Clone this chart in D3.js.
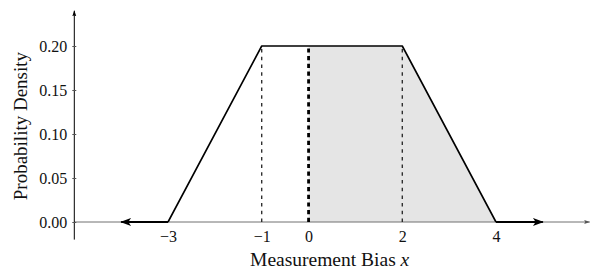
<!DOCTYPE html>
<html>
<head>
<meta charset="utf-8">
<script src="https://cdn.jsdelivr.net/npm/d3@7"></script>
<style>
  body { margin: 0; background: #fff; }
  svg text { font-family: "Liberation Serif", "DejaVu Serif", serif; fill: #111; }
</style>
</head>
<body>
<div id="chart"></div>
<script>
// Trapezoidal density of the measurement bias
const densityX = [-3, -1, 2, 4];
const densityY = [0, 0.2, 0.2, 0];

// Shaded region x >= 0 under the density
const shadeX = [0, 2, 4];
const shadeY = [0.2, 0.2, 0];

// Reference lines
const dashedAt = [-1, 2];
const dottedAt = [0];

// Tails running off along the axis
const tailLeft = [-3, -4];
const tailRight = [4, 5];

const xTicks = [-3, -1, 0, 2, 4];
const yTicks = [0, 0.05, 0.10, 0.15, 0.20];

const width = 598, height = 272;
const serif = '"Liberation Serif", "DejaVu Serif", serif';

const x = d3.scaleLinear().domain([-5, 6]).range([74.3, 589.7]);
const y = d3.scaleLinear().domain([-0.02, 0.24]).range([239.6, 10.8]);

const svg = d3.select('#chart')
    .append('svg')
    .attr('width', width)
    .attr('height', height);

// Arrow heads
const defs = svg.append('defs');
function marker(id, color, w, h, d) {
    defs.append('marker')
        .attr('id', id)
        .attr('viewBox', '0 -5 12 10')
        .attr('refX', 11).attr('refY', 0)
        .attr('markerWidth', w).attr('markerHeight', h)
        .attr('markerUnits', 'userSpaceOnUse')
        .attr('orient', 'auto')
        .append('path').attr('d', d).attr('fill', color);
}
marker('tip', '#555', 6, 5, 'M0,-4L12,0L0,4L2,0Z');
marker('tipBlack', '#000', 6, 5, 'M0,-4L12,0L0,4L2,0Z');
marker('stealth', '#000', 12, 9, 'M0,-4.5L12,0L0,4.5L3,0Z');

// Shaded area
const shadePts = shadeX.map((v, i) => [v, shadeY[i]]);
svg.append('path')
    .datum(shadePts)
    .attr('fill', '#e5e5e5')
    .attr('d', d3.area().x(d => x(d[0])).y0(y(0)).y1(d => y(d[1])));

// x axis (gray line with small arrow)
svg.append('line')
    .attr('x1', x(-5)).attr('x2', x(6))
    .attr('y1', y(0)).attr('y2', y(0))
    .attr('stroke', '#707070')
    .attr('stroke-width', 1)
    .attr('marker-end', 'url(#tip)');

const xAxis = svg.append('g')
    .attr('transform', `translate(0,${y(0)})`)
    .call(d3.axisBottom(x).tickValues(xTicks).tickSize(0).tickPadding(9)
        .tickFormat(d3.format('d')));
xAxis.select('.domain').remove();
xAxis.attr('font-family', serif).attr('font-size', 16);
xAxis.selectAll('text').style('font-family', serif).style('font-size', '16px');

// y axis (black line with arrow)
svg.append('line')
    .attr('x1', x(-5)).attr('x2', x(-5))
    .attr('y1', y(-0.02)).attr('y2', y(0.24))
    .attr('stroke', '#000')
    .attr('stroke-width', 1)
    .attr('marker-end', 'url(#tipBlack)');

const yAxis = svg.append('g')
    .attr('transform', `translate(${x(-5)},0)`)
    .call(d3.axisLeft(y).tickValues(yTicks).tickSize(2).tickPadding(5)
        .tickFormat(d3.format('.2f')));
yAxis.select('.domain').remove();
yAxis.attr('font-family', serif).attr('font-size', 16);
yAxis.selectAll('.tick line').attr('x1', 2).attr('x2', -2).attr('stroke', '#555');
yAxis.selectAll('text').style('font-family', serif).style('font-size', '16px');

// Reference lines
svg.selectAll('.dashed')
    .data(dashedAt)
    .enter()
    .append('line')
    .attr('x1', d => x(d)).attr('x2', d => x(d))
    .attr('y1', y(0)).attr('y2', y(0.2))
    .attr('stroke', '#222')
    .attr('stroke-width', 1.3)
    .attr('stroke-dasharray', '3.5,4.2');

svg.selectAll('.dotted')
    .data(dottedAt)
    .enter()
    .append('line')
    .attr('x1', d => x(d)).attr('x2', d => x(d))
    .attr('y1', y(0)).attr('y2', y(0.2))
    .attr('stroke', '#000')
    .attr('stroke-width', 2.8)
    .attr('stroke-dasharray', '4.2,3.5');

// Density
const line = d3.line().x(d => x(d[0])).y(d => y(d[1]));
svg.append('path')
    .datum(densityX.map((v, i) => [v, densityY[i]]))
    .attr('fill', 'none')
    .attr('stroke', '#000')
    .attr('stroke-width', 1.6)
    .attr('stroke-linejoin', 'round')
    .attr('d', line);

// Tails
[tailLeft, tailRight].forEach(t => {
    svg.append('path')
        .datum(t.map(v => [v, 0]))
        .attr('fill', 'none')
        .attr('stroke', '#000')
        .attr('stroke-width', 2)
        .attr('marker-end', 'url(#stealth)')
        .attr('d', line);
});

// Axis titles
const xt = svg.append('text')
    .attr('x', x(0.45)).attr('y', 266)
    .attr('text-anchor', 'middle')
    .attr('font-size', 19.5);
xt.append('tspan').text('Measurement Bias ');
xt.append('tspan').attr('font-style', 'italic').text('x');

svg.append('text')
    .attr('transform', `translate(27,${y(0.109)}) rotate(-90)`)
    .attr('text-anchor', 'middle')
    .attr('font-size', 19)
    .text('Probability Density');
</script>
</body>
</html>
